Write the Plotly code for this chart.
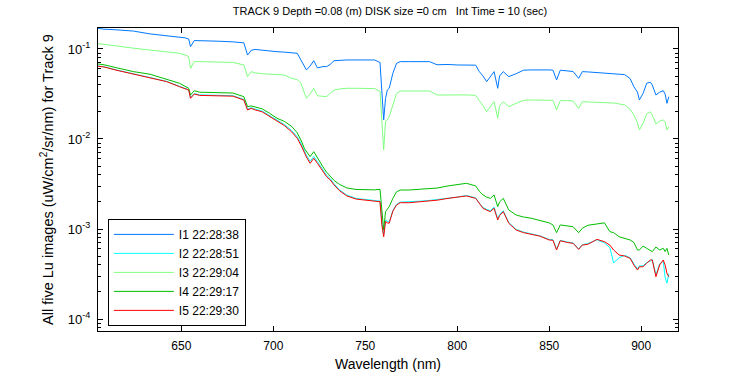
import plotly.graph_objects as go

# Wavelength grid (nm)
wavelength = [604, 608, 615, 624, 633, 642, 649, 652, 654, 655, 657, 660, 670, 678, 684, 686, 688, 690, 694, 698,
              702, 706, 710, 713, 715, 717, 718, 720, 722, 724, 727, 729, 731, 733, 736, 740, 745, 750, 755, 758,
              759, 760, 761, 762, 763, 765, 767, 769, 774, 780, 785, 789, 795, 800, 805, 810, 812, 814, 816, 818,
              820, 822, 823, 825, 828, 832, 836, 840, 845, 850, 852, 854, 856, 860, 863, 866, 868, 871, 876, 880,
              883, 885, 888, 891, 894, 896, 898, 899, 901, 903, 905, 906, 908, 910, 912, 913, 914, 915]

lu_i1 = [0.170, 0.166, 0.163, 0.158, 0.147, 0.141, 0.137, 0.133, 0.129, 0.106, 0.124, 0.124, 0.122, 0.120, 0.117, 0.0857, 0.0966, 0.0989, 0.0966, 0.0944,
         0.0933, 0.0923, 0.0912, 0.0895, 0.0755, 0.0631, 0.0585, 0.0646, 0.0741, 0.0617, 0.0637, 0.0637, 0.0676, 0.0741, 0.0750, 0.0755, 0.0755, 0.0759, 0.0755, 0.0708,
         0.0381, 0.0163, 0.0282, 0.0350, 0.0366, 0.0537, 0.0693, 0.0723, 0.0723, 0.0728, 0.0723, 0.0668, 0.0673, 0.0664, 0.0668, 0.0661, 0.0560, 0.0501, 0.0434, 0.0501,
         0.0560, 0.0366, 0.0501, 0.0560, 0.0493, 0.0531, 0.0581, 0.0585, 0.0589, 0.0585, 0.0582, 0.0453, 0.0581, 0.0569, 0.0562, 0.0472, 0.0560, 0.0556, 0.0547, 0.0547,
         0.0543, 0.0537, 0.0531, 0.0519, 0.0468, 0.0381, 0.0331, 0.0271, 0.0321, 0.0417, 0.0427, 0.0398, 0.0308, 0.0331, 0.0344, 0.0316, 0.0249, 0.0295]

lu_i2 = [0.0650, 0.0635, 0.0583, 0.0530, 0.0488, 0.0437, 0.0384, 0.0366, 0.0352, 0.0290, 0.0320, 0.0309, 0.0306, 0.0303, 0.0275, 0.0214, 0.0223, 0.0215, 0.0204, 0.0181,
         0.0160, 0.0145, 0.0124, 0.0106, 0.00895, 0.00725, 0.00660, 0.00565, 0.00640, 0.00560, 0.00445, 0.00395, 0.00362, 0.00318, 0.00272, 0.00238, 0.00219, 0.00214, 0.00208, 0.00204,
         0.00118, 0.000860, 0.00125, 0.00121, 0.00119, 0.00160, 0.00188, 0.00199, 0.00200, 0.00204, 0.00208, 0.00212, 0.00222, 0.00226, 0.00236, 0.00222, 0.00194, 0.00173, 0.00165, 0.00160,
         0.00175, 0.00130, 0.00145, 0.00160, 0.00118, 0.000990, 0.000925, 0.000890, 0.000840, 0.000765, 0.000760, 0.000600, 0.000750, 0.000715, 0.000700, 0.000600, 0.000670, 0.000690, 0.000760, 0.000700,
         0.000620, 0.000420, 0.000480, 0.000510, 0.000480, 0.000410, 0.000360, 0.000390, 0.000390, 0.000425, 0.000440, 0.000460, 0.000310, 0.000410, 0.000440, 0.000290, 0.000250, 0.000320]

lu_i3 = [0.115, 0.113, 0.108, 0.102, 0.0975, 0.0933, 0.0895, 0.0861, 0.0822, 0.0610, 0.0723, 0.0724, 0.0716, 0.0708, 0.0664, 0.0493, 0.0560, 0.0543, 0.0531, 0.0525,
         0.0519, 0.0513, 0.0472, 0.0457, 0.0416, 0.0331, 0.0283, 0.0316, 0.0366, 0.0302, 0.0295, 0.0295, 0.0324, 0.0350, 0.0359, 0.0366, 0.0366, 0.0366, 0.0363, 0.0339,
         0.0177, 0.00755, 0.0158, 0.0163, 0.0177, 0.0239, 0.0321, 0.0341, 0.0341, 0.0343, 0.0341, 0.0308, 0.0310, 0.0308, 0.0309, 0.0305, 0.0271, 0.0234, 0.0201, 0.0229,
         0.0260, 0.0170, 0.0234, 0.0260, 0.0229, 0.0249, 0.0269, 0.0271, 0.0272, 0.0271, 0.0269, 0.0210, 0.0267, 0.0267, 0.0264, 0.0219, 0.0260, 0.0258, 0.0257, 0.0255,
         0.0254, 0.0251, 0.0245, 0.0239, 0.0214, 0.0185, 0.0151, 0.0126, 0.0149, 0.0191, 0.0200, 0.0185, 0.0147, 0.0158, 0.0163, 0.0155, 0.0126, 0.0137]

lu_i4 = [0.0684, 0.0668, 0.0617, 0.0560, 0.0524, 0.0460, 0.0416, 0.0385, 0.0366, 0.0308, 0.0344, 0.0331, 0.0327, 0.0324, 0.0295, 0.0229, 0.0233, 0.0226, 0.0216, 0.0193,
         0.0170, 0.0157, 0.0138, 0.0117, 0.00975, 0.00776, 0.00724, 0.00637, 0.00723, 0.00610, 0.00490, 0.00427, 0.00381, 0.00347, 0.00313, 0.00286, 0.00275, 0.00272, 0.00272, 0.00276,
         0.00158, 0.000975, 0.00156, 0.00166, 0.00177, 0.00219, 0.00259, 0.00271, 0.00271, 0.00277, 0.00283, 0.00285, 0.00301, 0.00309, 0.00322, 0.00301, 0.00263, 0.00239, 0.00226, 0.00219,
         0.00239, 0.00177, 0.00200, 0.00219, 0.00163, 0.00143, 0.00136, 0.00132, 0.00124, 0.00117, 0.00111, 0.000910, 0.00111, 0.00108, 0.00106, 0.000910, 0.00102, 0.00110, 0.00115, 0.00117,
         0.000933, 0.000912, 0.000820, 0.000794, 0.000755, 0.000708, 0.000585, 0.000585, 0.000646, 0.000610, 0.000575, 0.000560, 0.000631, 0.000585, 0.000610, 0.000562, 0.000610, 0.000514]

lu_i5 = [0.0646, 0.0631, 0.0579, 0.0527, 0.0484, 0.0434, 0.0381, 0.0363, 0.0350, 0.0283, 0.0316, 0.0305, 0.0302, 0.0299, 0.0271, 0.0210, 0.0219, 0.0211, 0.0200, 0.0177,
         0.0156, 0.0141, 0.0120, 0.0102, 0.00857, 0.00693, 0.00631, 0.00537, 0.00610, 0.00537, 0.00427, 0.00380, 0.00350, 0.00309, 0.00266, 0.00233, 0.00215, 0.00210, 0.00205, 0.00201,
         0.00112, 0.000820, 0.00121, 0.00117, 0.00116, 0.00158, 0.00185, 0.00196, 0.00196, 0.00200, 0.00205, 0.00209, 0.00219, 0.00224, 0.00233, 0.00219, 0.00191, 0.00170, 0.00162, 0.00156,
         0.00170, 0.00126, 0.00141, 0.00156, 0.00116, 0.000975, 0.000912, 0.000879, 0.000832, 0.000755, 0.000750, 0.000585, 0.000741, 0.000708, 0.000693, 0.000594, 0.000664, 0.000676, 0.000767, 0.000723,
         0.000661, 0.000585, 0.000514, 0.000501, 0.000472, 0.000398, 0.000350, 0.000380, 0.000381, 0.000417, 0.000453, 0.000453, 0.000295, 0.000398, 0.000453, 0.000398, 0.000321, 0.000295]

series_names = ["I1 22:28:38", "I2 22:28:51", "I3 22:29:04", "I4 22:29:17", "I5 22:29:30"]
series_values = [lu_i1, lu_i2, lu_i3, lu_i4, lu_i5]
series_colors = ["rgb(0,120,255)", "rgb(0,255,255)", "rgb(128,255,128)", "rgb(0,190,0)", "rgb(255,0,0)"]

x_ticks = [650, 700, 750, 800, 850, 900]
y_ticks = [1e-4, 1e-3, 1e-2, 1e-1]
y_tick_text = ["10<sup>-4</sup>", "10<sup>-3</sup>", "10<sup>-2</sup>", "10<sup>-1</sup>"]
y_minor = [m * 10.0 ** e for e in range(-5, 0) for m in range(2, 10)]

FONT = "Liberation Sans, Arial, Helvetica, sans-serif"

fig = go.Figure()
for name, vals, col in zip(series_names, series_values, series_colors):
    fig.add_trace(go.Scatter(x=wavelength, y=vals, mode="lines", name=name,
                             line=dict(color=col, width=1)))

fig.update_layout(
    width=750, height=375,
    margin=dict(l=98, r=72, t=28, b=44),
    paper_bgcolor="white", plot_bgcolor="white",
    font=dict(family=FONT, size=12, color="black"),
    title=dict(text="TRACK 9 Depth =0.08 (m) DISK size =0 cm   Int Time = 10 (sec)",
               x=390 / 750, xanchor="center", y=1 - 11 / 375, yanchor="middle",
               font=dict(family=FONT, size=11, color="black")),
    showlegend=True,
    legend=dict(x=0.017, y=0.37, xanchor="left", yanchor="top",
                bgcolor="white", bordercolor="black", borderwidth=1,
                font=dict(family=FONT, size=12, color="black"),
                itemwidth=60, tracegroupgap=0,
                entrywidthmode="pixels", entrywidth=105),
)

fig.update_xaxes(
    range=[604.7, 920], tickvals=x_ticks, ticks="inside", ticklen=5, tickcolor="black",
    showline=True, linecolor="black", linewidth=1, mirror="ticks", showgrid=False, zeroline=False,
    automargin=False, ticklabelstandoff=4,
    title=dict(text="Wavelength (nm)", standoff=6, font=dict(size=14)),
    tickfont=dict(size=12),
)
fig.update_yaxes(
    type="log", range=[-4.133, -0.767], tickvals=y_ticks, ticktext=y_tick_text,
    ticks="inside", ticklen=5, tickcolor="black",
    minor=dict(tickvals=y_minor, ticks="inside", ticklen=3, tickcolor="black", showgrid=False),
    showline=True, linecolor="black", linewidth=1, mirror="ticks", showgrid=False, zeroline=False,
    automargin=False, ticklabelstandoff=4,
    title=dict(text="All five Lu images (uW/cm<sup>2</sup>/sr/nm) for Track 9", standoff=10, font=dict(size=14.5)),
    tickfont=dict(size=13),
)

fig.write_html("out.html", config={"displayModeBar": False},
               post_script="document.body.style.margin='0';document.body.style.overflow='hidden';")
